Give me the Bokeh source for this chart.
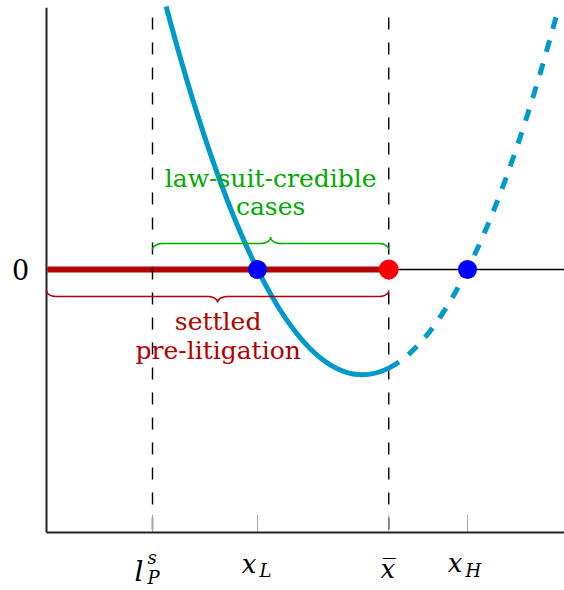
import numpy as np
from bokeh.plotting import figure
from bokeh.models import Range1d
from bokeh.core.properties import value
from bokeh.embed import file_html
from bokeh.resources import INLINE

# ---------------- data ----------------
tick_x = [2.0, 4.0, 6.5, 8.0]          # l_P^s, x_L, x_bar, x_H
l_s, x_L, x_bar, x_H = tick_x
x_max = 9.85
y_axis_top, y_axis_bottom = 1.0, -1.0
dash_top = 0.958

roots_x = [x_L, x_H]
roots_y = [0.0, 0.0]
thresh_x = [x_bar]
thresh_y = [0.0]

# payoff curve (a parabola) as quadratic Bezier pieces: start, end, control
solid_x0, solid_y0, solid_x1, solid_y1, solid_cx, solid_cy = [2.26], [1.0], [6.5], [-0.375], [4.38], [-0.588]
dash_x0, dash_y0, dash_x1, dash_y1, dash_cx, dash_cy = [6.5], [-0.375], [9.74], [1.0], [8.12], [-0.213]

credible_range = [l_s, x_bar]
settled_range = [0.0, x_bar]
credible_text = ["law-suit-credible", "cases"]
settled_text = ["settled", "pre-litigation"]
credible_text_y = [0.346, 0.240]
settled_text_y = [-0.198, -0.308]

# ---------------- geometry ----------------
W, H = 564, 590
PX, PY = 52.5, 263.0          # pixels per data unit
x0r = -47 / PX
y1r = 269 / PY
p = figure(width=W, height=H, output_backend="svg", toolbar_location=None,
           x_axis_type=None, y_axis_type=None, min_border=0,
           x_range=Range1d(x0r, x0r + W / PX), y_range=Range1d(y1r - H / PY, y1r))
p.grid.visible = False
p.outline_line_color = None
p.background_fill_color = "white"

RED = "#B30000"
GREEN = "#00AA00"
CYAN = "#0099CC"

# zero line and red settled segment
p.segment(x0=[0.0], y0=[0.0], x1=[x_max + 1], y1=[0.0], line_color="black", line_width=1.4)
p.segment(x0=[settled_range[0]], y0=[0.0], x1=[settled_range[1]], y1=[0.0], line_color=RED, line_width=6)

# dashed verticals
p.segment(x0=[l_s, x_bar], y0=[dash_top, dash_top], x1=[l_s, x_bar], y1=[y_axis_bottom, y_axis_bottom],
          line_color="black", line_width=1.4, line_dash="12 13")

# tick marks
tl = 18 / PY
p.segment(x0=tick_x, y0=[y_axis_bottom] * 4, x1=tick_x, y1=[y_axis_bottom + tl] * 4,
          line_color="#aaaaaa", line_width=1)

# axes
ax0 = -1 / PX
p.segment(x0=[ax0, ax0], y0=[y_axis_bottom, y_axis_bottom], x1=[ax0, x_max + 1], y1=[y_axis_top - 0.005, y_axis_bottom],
          line_color="#222222", line_width=2)

# curve
p.quadratic(x0=solid_x0, y0=solid_y0, x1=solid_x1, y1=solid_y1, cx=solid_cx, cy=solid_cy,
            line_color=CYAN, line_width=5)
p.quadratic(x0=dash_x0, y0=dash_y0, x1=dash_x1, y1=dash_y1, cx=dash_cx, cy=dash_cy,
            line_color=CYAN, line_width=5, line_dash="12 12")


def brace(xa, xb, ymid_px, h_px, d, r_px=10.0):
    ymid = ymid_px / PY
    h = h_px / PY
    r = r_px / PX
    xm = (xa + xb) / 2
    t = np.linspace(0, np.pi / 2, 20)
    xs, ys = [], []
    xs += list(xa + r * (1 - np.cos(t))); ys += list(ymid - d * h * (1 - np.sin(t)))
    xs += list(xm - r + r * np.sin(t)); ys += list(ymid + d * h * (1 - np.cos(t)))
    xs += list(xm + r - r * np.sin(t[::-1])); ys += list(ymid + d * h * (1 - np.cos(t[::-1])))
    xs += list(xb - r * (1 - np.cos(t[::-1]))); ys += list(ymid - d * h * (1 - np.sin(t[::-1])))
    return xs, ys


gx, gy = brace(credible_range[0], credible_range[1], 26.0, 6.5, +1)
p.line(gx, gy, line_color=GREEN, line_width=1.6)
rx, ry = brace(settled_range[0] + ax0, settled_range[1], -27.0, 6.0, -1)
p.line(rx, ry, line_color=RED, line_width=1.6)

# points
p.scatter(roots_x, roots_y, size=19, fill_color="#0000FF", line_color=None)
p.scatter(thresh_x, thresh_y, size=20, fill_color="#FF0000", line_color=None)

# annotation texts
SERIF = value("DejaVu Serif")
cm = sum(credible_range) / 2
sm = sum(settled_range) / 2
p.text(x=[cm, cm], y=credible_text_y, text=credible_text, text_font=SERIF, text_font_size="25px",
       text_color=GREEN, text_align="center", text_baseline="middle")
p.text(x=[sm, sm], y=settled_text_y, text=settled_text, text_font=SERIF, text_font_size="25px",
       text_color=RED, text_align="center", text_baseline="middle")

# y tick label "0"
p.text(x=[-27 / PX], y=[0.0], text=["0"], text_font=SERIF, text_font_size="27px",
       text_align="center", text_baseline="middle", text_color="black")


def ypx(Y):
    return (269 - Y) / PY


def lab(x, dx, Y, s, size, align):
    p.text(x=[x + dx / PX], y=[ypx(Y)], text=[s], text_font=SERIF, text_font_style="italic",
           text_font_size=size, text_align=align, text_baseline="alphabetic", text_color="black")


# l_P^s
lab(l_s, -9, 571, "l", "28px", "right")
lab(l_s, -5, 557, "s", "18px", "left")
lab(l_s, -5, 577, "P", "18px", "left")
# x_L
lab(x_L, -1, 563, "x", "26px", "right")
lab(x_L, 2, 570, "L", "18px", "left")
# x bar
lab(x_bar, -1, 568, "x\u0305", "26px", "center")
# x_H
lab(x_H, -5, 562, "x", "26px", "right")
lab(x_H, -2, 570, "H", "18px", "left")

open("out.html", "w").write(file_html(p, INLINE))
